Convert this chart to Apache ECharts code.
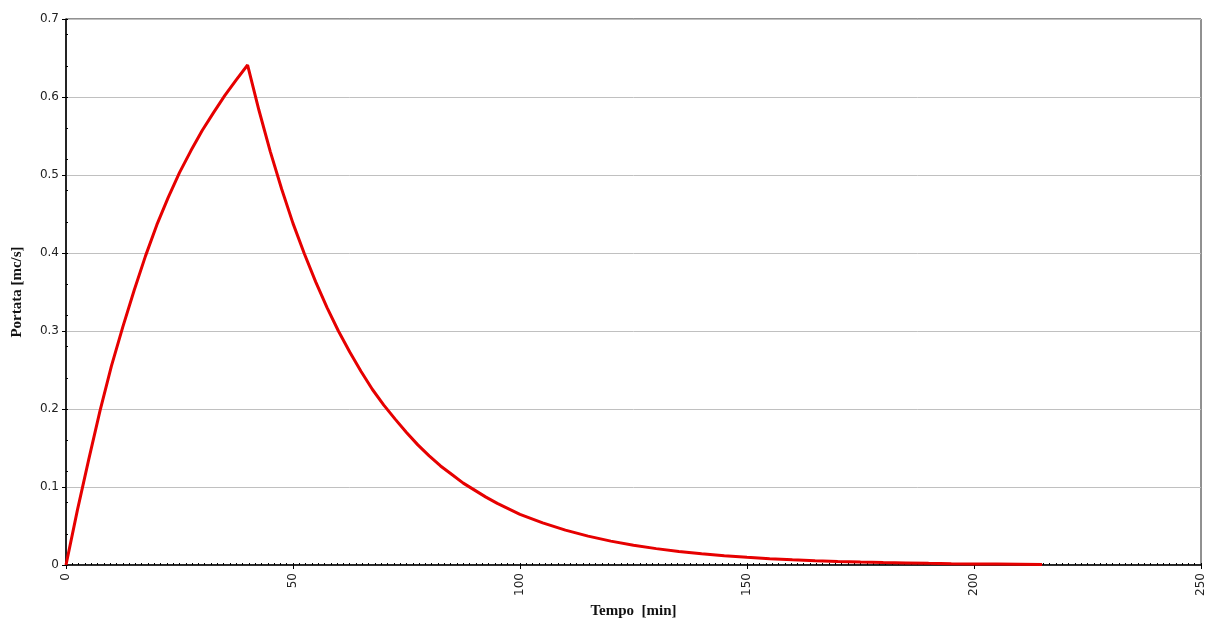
<!DOCTYPE html>
<html>
<head>
<meta charset="utf-8">
<script src="https://cdn.jsdelivr.net/npm/echarts@6/dist/echarts.min.js"></script>
<style>
  html, body { margin: 0; padding: 0; background: #fff; }
  #chart-container { width: 1209px; height: 627px; }
</style>
</head>
<body>
<div id="chart-container"></div>
<script>
// hydrograph: tempo [min] vs portata [mc/s]
const tempo = [0, 2.5, 5, 7.5, 10, 12.5, 15, 17.5, 20, 22.5, 25, 27.5, 30, 32.5, 35, 37.5, 40,
    42.5, 45, 47.5, 50, 52.5, 55, 57.5, 60, 62.5, 65, 67.5, 70, 72.5, 75, 77.5, 80, 82.5, 85,
    87.5, 90, 92.5, 95, 97.5, 100, 105, 110, 115, 120, 125, 130, 135, 140, 145, 150, 155,
    160, 165, 170, 175, 180, 185, 190, 195, 200, 205, 210, 215];
const portata = [0, 0.07, 0.135, 0.198, 0.255, 0.305, 0.352, 0.396, 0.436, 0.471, 0.503, 0.531,
    0.557, 0.580, 0.602, 0.622, 0.641, 0.583, 0.530, 0.482, 0.438, 0.399, 0.363, 0.330, 0.300,
    0.273, 0.248, 0.225, 0.205, 0.187, 0.170, 0.154, 0.140, 0.127, 0.116, 0.105, 0.096, 0.087,
    0.079, 0.072, 0.065, 0.054, 0.0447, 0.037, 0.0306, 0.0253, 0.021, 0.0173, 0.0143, 0.0119,
    0.0098, 0.0081, 0.0067, 0.0056, 0.0046, 0.0038, 0.0031, 0.0026, 0.0021, 0.0017, 0.0014,
    0.0012, 0.001, 0.0008];

const xTicks = [0, 50, 100, 150, 200, 250];
const yTicks = [0, 0.1, 0.2, 0.3, 0.4, 0.5, 0.6, 0.7];

var chartDom = document.getElementById("chart-container");
var myChart = echarts.init(chartDom);

const labelFont = { fontFamily: "DejaVu Sans", fontSize: 12, color: "#222" };
const nameFont = { fontFamily: "Liberation Serif", fontSize: 15, fontWeight: "bold", color: "#111" };

var option = {
    animation: false,
    backgroundColor: "#fff",
    grid: {
        left: 66, right: 8, top: 19, bottom: 62,
        show: true, borderColor: "#222", borderWidth: 1
    },
    xAxis: [
        {
            type: "value",
            min: xTicks[0], max: xTicks[xTicks.length - 1], interval: 50,
            name: "Tempo  [min]", nameLocation: "middle", nameGap: 37,
            nameTextStyle: nameFont,
            axisLine: { lineStyle: { color: "#000", width: 1.5 } },
            axisTick: { length: 4, lineStyle: { color: "#000" } },
            axisLabel: Object.assign({ rotate: 90, margin: 8 }, labelFont),
            splitLine: { show: false }
        },
        {
            // minor ticks
            type: "value", position: "bottom",
            min: 0, max: 250, interval: 250 / 180,
            axisLine: { show: false },
            axisTick: { inside: true, length: 2, lineStyle: { color: "#000" } },
            axisLabel: { show: false },
            splitLine: { show: false }
        }
    ],
    yAxis: [
        {
            type: "value",
            min: yTicks[0], max: yTicks[yTicks.length - 1], interval: 0.1,
            name: "Portata [mc/s]", nameLocation: "middle", nameGap: 41,
            nameTextStyle: nameFont,
            axisLine: { show: true, lineStyle: { color: "#000", width: 1.5 } },
            axisTick: { show: true, length: 4, lineStyle: { color: "#000" } },
            axisLabel: Object.assign({ margin: 7 }, labelFont),
            splitLine: { show: true, lineStyle: { color: "#c0c0c0", width: 1 } }
        },
        {
            type: "value", position: "left",
            min: 0, max: 0.7, interval: 0.04,
            axisLine: { show: false },
            axisTick: { show: true, inside: true, length: 2, lineStyle: { color: "#000" } },
            axisLabel: { show: false },
            splitLine: { show: false }
        }
    ],
    series: [
        {
            type: "line",
            data: tempo.map((t, i) => [t, portata[i]]),
            showSymbol: false,
            lineStyle: { color: "#e60000", width: 3 },
            z: 5
        }
    ]
};

option && myChart.setOption(option);
</script>
</body>
</html>
